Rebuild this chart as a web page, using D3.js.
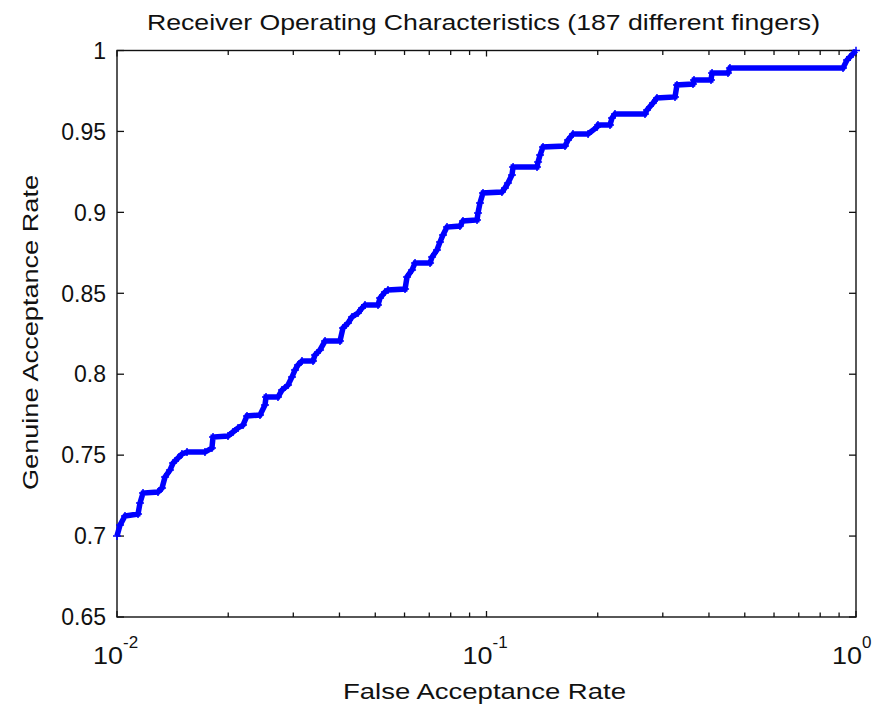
<!DOCTYPE html>
<html>
<head>
<meta charset="utf-8">
<script src="https://cdn.jsdelivr.net/npm/d3@7"></script>
<style>
  html, body { margin: 0; padding: 0; background: #fff; }
  svg { display: block; }
  text { font-family: "Liberation Sans", Arial, Helvetica, sans-serif; fill: #111; }
</style>
</head>
<body>
<svg id="chart" width="878" height="704"></svg>
<script>
// ROC curve: false acceptance rate (log scale) vs genuine acceptance rate
const far = [
  0.0100, 0.01019, 0.01051, 0.01140, 0.01154, 0.01176, 0.01291, 0.01324, 0.01349, 0.01391,
  0.01418, 0.01463, 0.01499, 0.01547, 0.01730, 0.01807, 0.01819, 0.01997, 0.02060, 0.02126,
  0.02193, 0.02248, 0.02438, 0.02515, 0.02531, 0.02727, 0.02796, 0.02903, 0.02976, 0.03032,
  0.03089, 0.03167, 0.03392, 0.03435, 0.03544, 0.03656, 0.04013, 0.04089, 0.04219, 0.04325,
  0.04490, 0.04604, 0.04690, 0.05086, 0.05150, 0.05312, 0.05412, 0.06019, 0.06094, 0.06288,
  0.06406, 0.07034, 0.07122, 0.07345, 0.07485, 0.07626, 0.07818, 0.08476, 0.08636, 0.09426,
  0.09484, 0.09603, 0.09784, 0.1101, 0.1122, 0.1143, 0.1172, 0.1180, 0.1370, 0.1379,
  0.1396, 0.1422, 0.1631, 0.1662, 0.1714, 0.1883, 0.1991, 0.2003, 0.2159, 0.2186,
  0.2227, 0.2685, 0.2719, 0.2822, 0.2893, 0.3237, 0.3277, 0.3621, 0.3644, 0.4051,
  0.4077, 0.4503, 0.4559, 0.9222, 0.9454, 0.9634, 1.0
];
const gar = [
  0.7000, 0.7068, 0.7124, 0.7136, 0.7204, 0.7266, 0.7272, 0.7297, 0.7365, 0.7408,
  0.7451, 0.7482, 0.7507, 0.7519, 0.7519, 0.7544, 0.7612, 0.7618, 0.7643, 0.7668,
  0.7686, 0.7742, 0.7748, 0.7810, 0.7859, 0.7859, 0.7902, 0.7933, 0.7983, 0.8026,
  0.8057, 0.8082, 0.8082, 0.8119, 0.8150, 0.8205, 0.8205, 0.8286, 0.8316, 0.8353,
  0.8378, 0.8409, 0.8428, 0.8428, 0.8471, 0.8508, 0.8520, 0.8526, 0.8601, 0.8644,
  0.8687, 0.8687, 0.8724, 0.8767, 0.8817, 0.8860, 0.8909, 0.8915, 0.8947, 0.8953,
  0.8996, 0.9058, 0.9120, 0.9126, 0.9151, 0.9181, 0.9231, 0.9280, 0.9280, 0.9311,
  0.9354, 0.9404, 0.9410, 0.9447, 0.9484, 0.9484, 0.9527, 0.9540, 0.9540, 0.9583,
  0.9608, 0.9608, 0.9632, 0.9676, 0.9707, 0.9713, 0.9787, 0.9793, 0.9818, 0.9818,
  0.9861, 0.9861, 0.9892, 0.9892, 0.9941, 0.9960, 1.0000
];
const yTicks = [0.65, 0.7, 0.75, 0.8, 0.85, 0.9, 0.95, 1];
const yTickLabels = ["0.65", "0.7", "0.75", "0.8", "0.85", "0.9", "0.95", "1"];
const xMajorTicks = [0.01, 0.1, 1];
const xTickExponents = ["-2", "-1", "0"];
const titleText = "Receiver Operating Characteristics (187 different fingers)";
const xLabelText = "False Acceptance Rate";
const yLabelText = "Genuine Acceptance Rate";

const svg = d3.select("#chart");
const box = { left: 117, right: 856, top: 50.5, bottom: 617 };

const x = d3.scaleLog().domain([0.01, 1]).range([box.left, box.right]);
const y = d3.scaleLinear().domain([0.65, 1]).range([box.bottom, box.top]);

// minor log ticks (2..9 in each decade)
const xMinorTicks = x.ticks().filter(v => !xMajorTicks.some(m => Math.abs(m - v) < 1e-9));

const ink = "#111";

// plot frame
svg.append("rect")
  .attr("x", box.left).attr("y", box.top)
  .attr("width", box.right - box.left).attr("height", box.bottom - box.top)
  .attr("fill", "#fff").attr("stroke", ink).attr("stroke-width", 1.4);

// inward ticks on all four sides
const tickG = svg.append("g").attr("stroke", ink).attr("stroke-width", 1.3);
const yTickLen = 7, xMajorLen = 6, xMinorLen = 4.5;
yTicks.forEach(v => {
  const py = y(v);
  tickG.append("line").attr("x1", box.left).attr("x2", box.left + yTickLen).attr("y1", py).attr("y2", py);
  tickG.append("line").attr("x1", box.right).attr("x2", box.right - yTickLen).attr("y1", py).attr("y2", py);
});
xMajorTicks.concat(xMinorTicks).forEach(v => {
  const px = x(v);
  const len = xMajorTicks.includes(v) ? xMajorLen : xMinorLen;
  tickG.append("line").attr("x1", px).attr("x2", px).attr("y1", box.bottom).attr("y2", box.bottom - len);
  tickG.append("line").attr("x1", px).attr("x2", px).attr("y1", box.top).attr("y2", box.top + len);
});

// y tick labels
svg.append("g").selectAll("text").data(yTicks).join("text")
  .attr("x", box.left - 11)
  .attr("y", d => y(d))
  .attr("dy", "0.36em")
  .attr("text-anchor", "end")
  .attr("font-size", 23)
  .text((d, i) => yTickLabels[i]);

// x tick labels as powers of ten
const xl = svg.append("g").selectAll("g").data(xMajorTicks).join("g")
  .attr("transform", d => `translate(${x(d)},${box.bottom + 47})`);
xl.append("text").attr("x", -24).attr("textLength", 30).attr("lengthAdjust", "spacingAndGlyphs")
  .attr("font-size", 24).text("10");
xl.append("text").attr("x", 6).attr("y", -16).attr("text-anchor", "start").attr("font-size", 17)
  .text((d, i) => xTickExponents[i]);

// title and axis labels (stretched to the figure's wide lettering)
svg.append("text").attr("x", 147).attr("y", 30)
  .attr("textLength", 673).attr("lengthAdjust", "spacingAndGlyphs")
  .attr("font-size", 22).text(titleText);
svg.append("text").attr("x", 343).attr("y", 699)
  .attr("textLength", 283).attr("lengthAdjust", "spacingAndGlyphs")
  .attr("font-size", 22).text(xLabelText);
svg.append("text").attr("transform", "translate(38,490) rotate(-90)")
  .attr("textLength", 315).attr("lengthAdjust", "spacingAndGlyphs")
  .attr("font-size", 22).text(yLabelText);

// the ROC curve
const pts = far.map((f, i) => [f, gar[i]]);
svg.append("clipPath").attr("id", "plotclip").append("rect")
  .attr("x", box.left - 4).attr("y", box.top - 4)
  .attr("width", box.right - box.left + 8).attr("height", box.bottom - box.top + 8);

const curve = svg.append("g").attr("clip-path", "url(#plotclip)");
curve.append("path")
  .datum(pts)
  .attr("d", d3.line().x(d => x(d[0])).y(d => y(d[1])))
  .attr("fill", "none").attr("stroke", "#0000ff").attr("stroke-width", 5.5)
  .attr("stroke-linejoin", "miter");

// '+' markers along the curve
const m = 4;
curve.append("g").attr("stroke", "#0000ff").attr("stroke-width", 1.5)
  .selectAll("path").data(pts).join("path")
  .attr("d", d => {
    const px = x(d[0]), py = y(d[1]);
    return `M${px - m},${py}H${px + m}M${px},${py - m}V${py + m}`;
  });
</script>
</body>
</html>
